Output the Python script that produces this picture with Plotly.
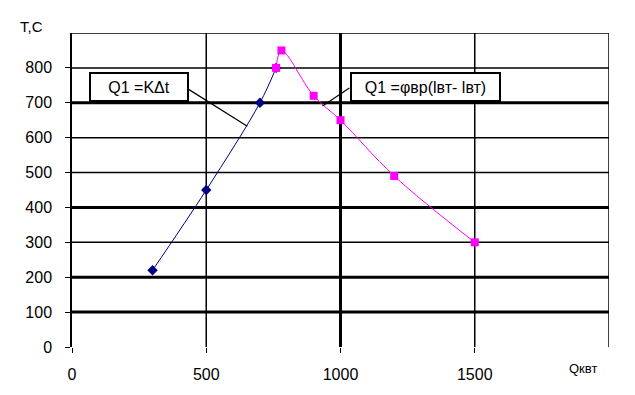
import plotly.graph_objects as go

# Data
q_blue = [300, 500, 700, 760]
t_blue = [220, 450, 700, 800]
q_mag = [760, 780, 900, 1000, 1200, 1500]
t_mag = [800, 850, 720, 650, 490, 300]

y_ticks = [0, 100, 200, 300, 400, 500, 600, 700, 800]
x_ticks = [0, 500, 1000, 1500]

# gridlines (value, width)
h_grid = [(100, 3), (200, 3), (300, 1.5), (400, 3), (500, 1.5), (600, 1.5), (700, 3), (800, 1.5), (900, 1.5)]
v_grid = [(500, 1.5), (1000, 3), (1500, 1.5), (2000, 1.5)]

fig = go.Figure()

fig.add_trace(go.Scatter(x=q_blue, y=t_blue, mode="lines+markers",
                         line=dict(color="#000080", width=1, shape="spline"),
                         marker=dict(symbol="diamond", size=8, color="#000080"),
                         showlegend=False))
fig.add_trace(go.Scatter(x=q_mag, y=t_mag, mode="lines+markers",
                         line=dict(color="#FF00FF", width=1, shape="spline"),
                         marker=dict(symbol="square", size=8, color="#FF00FF"),
                         showlegend=False))

shapes = []
for v, w in h_grid:
    shapes.append(dict(type="line", xref="x", yref="y", x0=0, x1=2000, y0=v, y1=v,
                       line=dict(color="black", width=w), layer="below"))
for v, w in v_grid:
    shapes.append(dict(type="line", xref="x", yref="y", x0=v, x1=v, y0=0, y1=900,
                       line=dict(color="black", width=w), layer="below"))
# callout leader lines
shapes.append(dict(type="line", xref="x", yref="y", x0=427, y0=742, x1=653, y1=633,
                   line=dict(color="black", width=1.2)))
shapes.append(dict(type="line", xref="x", yref="y", x0=1033, y0=742, x1=933, y1=691,
                   line=dict(color="black", width=1.2)))

annotations = [
    dict(text="Q1 =KΔt", xref="x", yref="y", x=250, y=745, showarrow=False,
         font=dict(family="Liberation Sans, Arial", size=16, color="black"),
         bgcolor="white", bordercolor="black", borderwidth=2, width=94, height=24),
    dict(text="Q1 =φвр(lвт- lвт)", xref="x", yref="y", x=1318, y=745, showarrow=False,
         font=dict(family="Liberation Sans, Arial", size=16, color="black"),
         bgcolor="white", bordercolor="black", borderwidth=2, width=145, height=24),
    dict(text="T,C", xref="paper", yref="paper", x=-0.1, y=1.02, showarrow=False,
         xanchor="left", yanchor="middle",
         font=dict(family="Liberation Sans, Arial", size=15, color="black")),
    dict(text="Qквт", xref="paper", yref="paper", x=0.952, y=-0.067, showarrow=False,
         xanchor="center", yanchor="middle",
         font=dict(family="Liberation Sans, Arial", size=13, color="black")),
]

fig.update_layout(
    width=635, height=395,
    margin=dict(l=64, r=34, t=25, b=56, autoexpand=False),
    plot_bgcolor="white", paper_bgcolor="white",
    shapes=shapes, annotations=annotations,
    xaxis=dict(range=[0, 2000], tickvals=x_ticks, showgrid=False, zeroline=False,
               showline=False, ticks="outside", ticklen=5, tickcolor="black",
               automargin=False,
               tickfont=dict(family="Liberation Sans Narrow, Liberation Sans, Arial", size=16, color="black"),
               ticklabelstandoff=8),
    yaxis=dict(range=[0, 900], tickvals=y_ticks, showgrid=False, zeroline=False,
               showline=True, linecolor="black", linewidth=1.5,
               ticks="outside", ticklen=5, tickcolor="black", automargin=False,
               tickfont=dict(family="Liberation Sans Narrow, Liberation Sans, Arial", size=16, color="black"),
               ticklabelstandoff=10),
)

fig.write_html("out.html")
